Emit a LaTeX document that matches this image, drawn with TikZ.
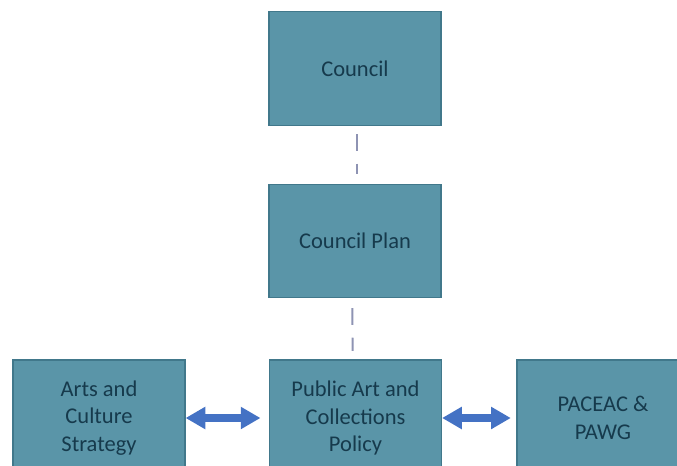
\documentclass[tikz,border=0pt]{standalone}
\usepackage{fontspec}
\setmainfont{Carlito}
\usetikzlibrary{arrows.meta, positioning}
\definecolor{pbteal}{HTML}{5A95A8}
\definecolor{pbedge}{HTML}{41788B}
\definecolor{pbtext}{HTML}{163A4C}
\definecolor{pbdash}{HTML}{8E93B3}
\definecolor{pbblue}{HTML}{4472C4}

\begin{document}
\begin{tikzpicture}[
  x=0.025cm, y=-0.025cm,
  every node/.style={font=\fontsize{16}{19.5}\selectfont, text=pbtext},
  pbox/.style={rectangle, draw=pbedge, line width=0.8pt, fill=pbteal, minimum width=4.3cm, minimum height=2.83cm, align=center, inner sep=0pt},
  lbox/.style={pbox, minimum height=2.9cm},
  link/.style={pbdash, line width=1.4pt, dash pattern=on 12pt off 9pt},
  dblarrow/.style={pbblue, line width=5.5pt, {Triangle[length=14pt,width=15pt]}-{Triangle[length=14pt,width=15pt]}},
]

\useasboundingbox (0,0) rectangle (677,466);
\clip (0,0) rectangle (677,466);

% Top column
\node[pbox] (council) at (355,68.5) {Council};
\node[pbox] (plan) at (355,241) {Council Plan};

% Bottom row
\node[lbox] (arts) at (99,418) {Arts and\\Culture\\Strategy};
\node[lbox] (policy) at (355.5,418) {Public Art and\\Collections\\Policy};
\node[lbox] (paceac) at (603,418) {PACEAC \&\\PAWG};

% Connections
\draw[link, shorten <=6pt, shorten >=7pt] ([xshift=1.5pt]council.south) -- ([xshift=1.5pt]plan.north);
\draw[link, shorten <=7pt, shorten >=6pt] ([xshift=-2pt]plan.south) -- ([xshift=-2pt]policy.north);
\draw[dblarrow, shorten >=6pt] (arts) -- (policy);
\draw[dblarrow, shorten >=4pt] (policy) -- (paceac);

\end{tikzpicture}
\end{document}
